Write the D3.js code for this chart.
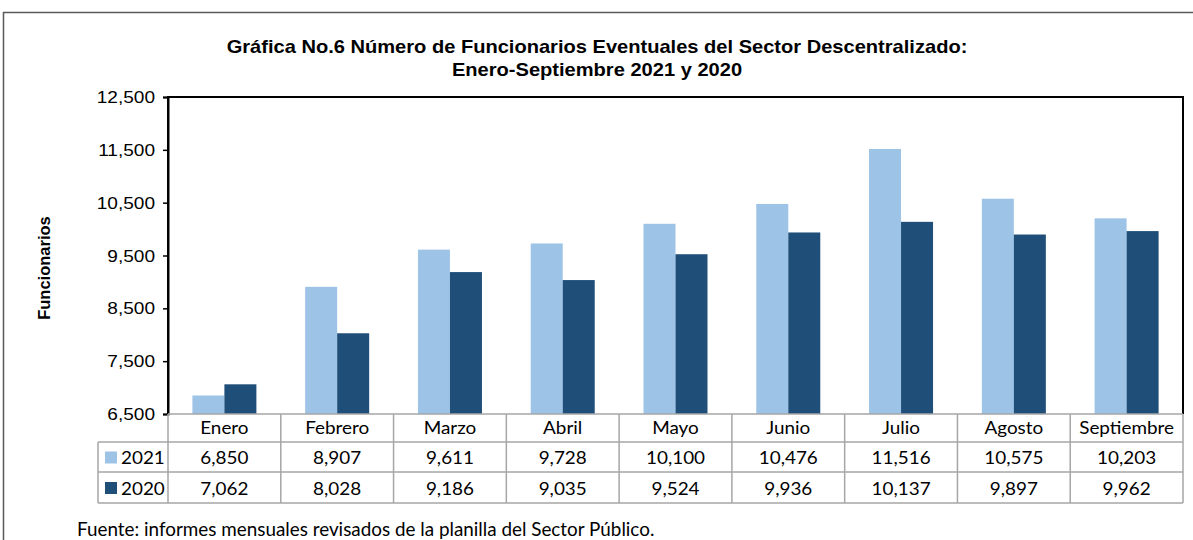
<!DOCTYPE html>
<html><head><meta charset="utf-8">
<script src="https://cdn.jsdelivr.net/npm/d3@7"></script>
<style>body{margin:0;background:#fff}svg{display:block}</style>
</head><body>
<svg id="c" width="1193" height="540"></svg>
<script>
const categories = ["Enero","Febrero","Marzo","Abril","Mayo","Junio","Julio","Agosto","Septiembre"];
const seriesNames = ["2021","2020"];
const values2021 = [6850,8907,9611,9728,10100,10476,11516,10575,10203];
const values2020 = [7062,8028,9186,9035,9524,9936,10137,9897,9962];
const yTicks = [6500,7500,8500,9500,10500,11500,12500];
const colors = ["#9DC3E6","#1F4E79"];
const titleLines = ["Gráfica No.6 Número de Funcionarios Eventuales del Sector Descentralizado:","Enero-Septiembre 2021 y 2020"];
const yTitle = "Funcionarios";
const source = "Fuente: informes mensuales revisados de la planilla del Sector Público.";

const svg = d3.select("#c");
const L = 168, R = 1183, T = 97, B = 414;
const arial = "Arial, 'Liberation Sans', sans-serif";
const tableFont = "Lato, 'Open Sans', sans-serif";

// helper: horizontally stretched text
function stext(parent, x, y, str, opts) {
  const t = parent.append("text")
    .attr("transform", `translate(${x},${y}) scale(${opts.sx||1},1)`)
    .attr("font-family", opts.family).attr("font-size", opts.size)
    .attr("fill", "#000").text(str);
  if (opts.weight) t.attr("font-weight", opts.weight);
  if (opts.anchor) t.attr("text-anchor", opts.anchor);
  return t;
}

// outer border
svg.append("path").attr("d","M3.5,545 V12.5 H1200").attr("fill","none").attr("stroke","#595959").attr("stroke-width",1.5);

// title
titleLines.forEach((d,i)=>stext(svg, 597, 53+i*23, d, {family:arial, weight:"bold", size:18.6, sx:1.08, anchor:"middle"}));

const x = d3.scaleBand().domain(categories).range([L,R]).paddingInner(0).paddingOuter(0);
const y = d3.scaleLinear().domain([6500,12500]).range([B,T]);

const bw = 32;
const off = (x.bandwidth()-2*bw)/2;
const data = categories.map((c,i)=>({c, v:[values2021[i],values2020[i]]}));
const g = svg.append("g");
data.forEach(d=>{
  d.v.forEach((v,j)=>{
    g.append("rect").attr("x",x(d.c)+off+j*bw).attr("y",y(v)).attr("width",bw).attr("height",y(6500)-y(v))
      .attr("fill",colors[j]);
  });
});

// plot border
svg.append("path").attr("d",`M${L},${B} V${T} H${R} V${B}`).attr("fill","none").attr("stroke","#000").attr("stroke-width",2);

// y axis
const yAxis = d3.axisLeft(y).tickValues(yTicks).tickFormat(()=>"").tickSize(5);
const ya = svg.append("g").attr("transform",`translate(${L},0)`).call(yAxis);
ya.select(".domain").attr("stroke","#000").attr("stroke-width",2);
ya.selectAll(".tick line").attr("stroke","#000").attr("stroke-width",1.5);
const fmt = d3.format(",");
yTicks.forEach(v=>stext(svg, 155, y(v)+6, fmt(v), {family:arial, size:16.3, sx:1.17, anchor:"end"}));

svg.append("text").attr("transform","translate(50,268) rotate(-90)").attr("text-anchor","middle")
  .attr("font-family",arial).attr("font-weight","bold").attr("font-size",16.5).text(yTitle);

// data table
const rowTop = [414, 442, 472, 503];
const legL = 98;
const grid = svg.append("g").attr("stroke","#a6a6a6").attr("stroke-width",1.5).attr("fill","none");
grid.append("line").attr("x1",L).attr("x2",R).attr("y1",rowTop[0]).attr("y2",rowTop[0]);
[1,2,3].forEach(k=>grid.append("line").attr("x1",legL).attr("x2",R).attr("y1",rowTop[k]).attr("y2",rowTop[k]));
grid.append("line").attr("x1",legL).attr("x2",legL).attr("y1",rowTop[1]).attr("y2",rowTop[3]);
categories.forEach(c=>grid.append("line").attr("x1",x(c)).attr("x2",x(c)).attr("y1",rowTop[0]).attr("y2",rowTop[3]));
grid.append("line").attr("x1",R).attr("x2",R).attr("y1",rowTop[0]).attr("y2",rowTop[3]);

const topt = {family:tableFont, size:17.5, sx:1.08, anchor:"middle"};
categories.forEach(c=>stext(svg, x(c)+x.bandwidth()/2, (rowTop[0]+rowTop[1])/2+6, c, topt));
[values2021,values2020].forEach((vals,j)=>{
  const cy = (rowTop[j+1]+rowTop[j+2])/2;
  vals.forEach((v,i)=>stext(svg, x(categories[i])+x.bandwidth()/2, cy+7, fmt(v), topt));
  svg.append("rect").attr("x",105).attr("y",cy-5.5).attr("width",12).attr("height",12).attr("fill",colors[j]);
  stext(svg, 121, cy+7, seriesNames[j], {family:tableFont, size:17.5, sx:1.08});
});

stext(svg, 77, 535.5, source, {family:tableFont, size:18.5, sx:1.02});
</script>
</body></html>
